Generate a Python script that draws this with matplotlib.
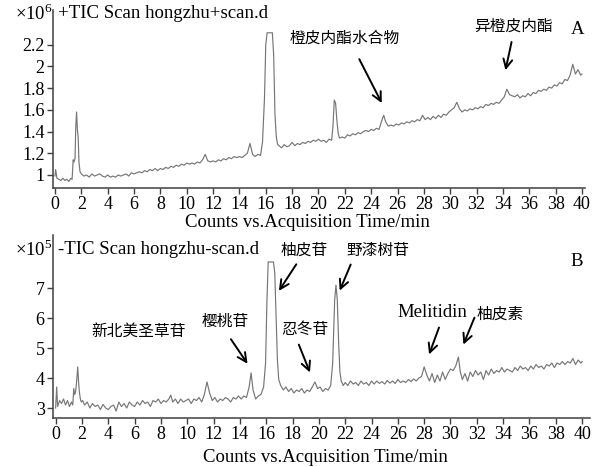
import matplotlib
matplotlib.use('Agg')
import matplotlib.pyplot as plt

plt.rcParams['font.family'] = ['Liberation Serif', 'Noto Sans CJK SC']
plt.rcParams['mathtext.fontset'] = 'custom'
plt.rcParams['mathtext.rm'] = 'Liberation Serif'

# positive mode TIC (x1e6 counts)
pos_time = [0.0, 0.05, 0.15, 0.3, 0.45, 0.6, 0.75, 0.9, 1.05, 1.2, 1.3,
            1.38, 1.45, 1.52, 1.58, 1.64, 1.7, 1.76, 1.82, 1.9, 2.0,
            2.2, 2.4, 2.6, 2.8, 3.0, 3.2, 3.4, 3.6, 3.8, 4.0,
            4.2, 4.4, 4.6, 4.8, 5.0, 5.2, 5.4, 5.6, 5.8, 6.0,
            6.2, 6.4, 6.6, 6.8, 7.0, 7.2, 7.4, 7.6, 7.8, 8.0,
            8.2, 8.4, 8.6, 8.8, 9.0, 9.2, 9.4, 9.6, 9.8, 10.0,
            10.2, 10.4, 10.6, 10.8, 11.0, 11.2, 11.4, 11.6, 11.8, 12.0,
            12.2, 12.4, 12.6, 12.8, 13.0, 13.2, 13.4, 13.6, 13.8, 14.0,
            14.2, 14.4, 14.6, 14.8, 15.0, 15.2, 15.4, 15.6, 15.75, 15.9,
            16.0, 16.1, 16.5, 16.6, 16.7, 16.8, 16.9, 17.0, 17.2, 17.4,
            17.6, 17.8, 18.0, 18.2, 18.4, 18.6, 18.8, 19.0, 19.2, 19.4,
            19.6, 19.8, 20.0, 20.2, 20.4, 20.6, 20.8, 21.0, 21.1, 21.2,
            21.3, 21.4, 21.5, 21.6, 21.8, 22.0, 22.2, 22.4, 22.6, 22.8,
            23.0, 23.2, 23.4, 23.6, 23.8, 24.0, 24.2, 24.4, 24.6, 24.8,
            24.95, 25.1, 25.3, 25.5, 25.7, 25.9, 26.1, 26.3, 26.5, 26.7,
            26.9, 27.1, 27.3, 27.5, 27.7, 27.9, 28.1, 28.3, 28.5, 28.7,
            28.9, 29.1, 29.3, 29.5, 29.7, 29.9, 30.1, 30.3, 30.5, 30.7,
            30.9, 31.1, 31.3, 31.5, 31.7, 31.9, 32.1, 32.3, 32.5, 32.7,
            32.9, 33.1, 33.3, 33.5, 33.7, 33.9, 34.1, 34.3, 34.5, 34.7,
            34.9, 35.1, 35.3, 35.5, 35.7, 35.9, 36.1, 36.3, 36.5, 36.7,
            36.9, 37.1, 37.3, 37.5, 37.7, 37.9, 38.1, 38.3, 38.5, 38.7,
            38.9, 39.1, 39.3, 39.5, 39.7, 39.9, 40.0]
pos_counts = [0.99, 1.05, 0.97, 0.96, 0.95, 0.97, 0.95, 0.96, 0.94, 0.97, 0.96,
              1.14, 1.12, 1.15, 1.45, 1.58, 1.42, 1.35, 1.12, 1.03, 1.01,
              0.99, 1.0, 0.98, 1.01, 0.99, 1.0, 1.01, 0.99, 0.98, 1.0,
              0.98, 0.99, 0.98, 1.0, 0.99, 1.0, 1.01, 0.99, 1.02, 1.01,
              1.02, 1.03, 1.02, 1.04, 1.03, 1.05, 1.04, 1.06, 1.04, 1.06,
              1.05, 1.07, 1.06, 1.08, 1.07, 1.09, 1.08, 1.1, 1.09, 1.11,
              1.1, 1.11, 1.1, 1.12, 1.11, 1.14, 1.19, 1.13, 1.12, 1.13,
              1.12, 1.14, 1.13, 1.15, 1.14, 1.16, 1.15, 1.17, 1.16, 1.17,
              1.16, 1.18, 1.2, 1.29, 1.19, 1.17, 1.19, 1.18, 1.3, 1.7,
              2.2, 2.31, 2.31, 2.1, 1.55, 1.35, 1.28, 1.27, 1.25, 1.28,
              1.26, 1.27, 1.3, 1.27, 1.29, 1.28, 1.3, 1.29, 1.31, 1.3,
              1.32, 1.31, 1.33, 1.31, 1.32, 1.3, 1.33, 1.32, 1.45, 1.69,
              1.66, 1.5, 1.38, 1.34, 1.35, 1.34, 1.37, 1.36, 1.38, 1.37,
              1.39, 1.38, 1.4, 1.41, 1.4, 1.42, 1.41, 1.43, 1.42, 1.5,
              1.55, 1.49, 1.45, 1.46, 1.45, 1.47, 1.46, 1.48, 1.47, 1.49,
              1.48, 1.5, 1.49, 1.51, 1.5, 1.55, 1.51, 1.53, 1.51, 1.54,
              1.52, 1.55, 1.53, 1.56, 1.55, 1.58, 1.6, 1.62, 1.67, 1.61,
              1.58, 1.6, 1.59, 1.61, 1.6, 1.62, 1.61, 1.63, 1.62, 1.65,
              1.64, 1.66, 1.65, 1.67, 1.66, 1.69, 1.72, 1.79, 1.74, 1.73,
              1.72, 1.74, 1.71, 1.73, 1.72, 1.75, 1.73, 1.76, 1.75, 1.78,
              1.77, 1.79, 1.78, 1.81, 1.8, 1.83, 1.82, 1.85, 1.84, 1.88,
              1.87, 1.92, 2.02, 1.93, 1.97, 1.92, 1.93]

# negative mode TIC (x1e5 counts)
neg_time = [0.0, 0.08, 0.15, 0.3, 0.45, 0.6, 0.75, 0.9, 1.05, 1.2, 1.3,
            1.38, 1.45, 1.52, 1.6, 1.68, 1.74, 1.8, 1.88, 1.95, 2.05,
            2.2, 2.4, 2.6, 2.8, 3.0, 3.2, 3.4, 3.6, 3.8, 4.0,
            4.2, 4.4, 4.6, 4.8, 5.0, 5.2, 5.4, 5.6, 5.8, 6.0,
            6.2, 6.4, 6.6, 6.8, 7.0, 7.2, 7.4, 7.6, 7.8, 8.0,
            8.2, 8.4, 8.6, 8.75, 8.9, 9.1, 9.3, 9.5, 9.7, 9.9,
            10.1, 10.3, 10.5, 10.7, 10.9, 11.1, 11.3, 11.5, 11.7, 11.9,
            12.1, 12.3, 12.5, 12.7, 12.9, 13.1, 13.3, 13.5, 13.7, 13.9,
            14.1, 14.3, 14.5, 14.7, 14.85, 15.0, 15.2, 15.4, 15.6, 15.8,
            15.95, 16.05, 16.15, 16.55, 16.65, 16.75, 16.85, 16.95, 17.1, 17.3,
            17.5, 17.7, 17.9, 18.1, 18.3, 18.5, 18.7, 18.9, 19.1, 19.3,
            19.5, 19.7, 19.9, 20.1, 20.3, 20.5, 20.7, 20.9, 21.05, 21.2,
            21.3, 21.4, 21.5, 21.6, 21.7, 21.85, 22.0, 22.2, 22.4, 22.6,
            22.8, 23.0, 23.2, 23.4, 23.6, 23.8, 24.0, 24.2, 24.4, 24.6,
            24.8, 25.0, 25.2, 25.4, 25.6, 25.8, 26.0, 26.2, 26.4, 26.6,
            26.8, 27.0, 27.2, 27.4, 27.6, 27.8, 28.0, 28.2, 28.4, 28.6,
            28.8, 29.0, 29.2, 29.4, 29.6, 29.8, 30.0, 30.2, 30.4, 30.6,
            30.75, 30.9, 31.1, 31.3, 31.5, 31.7, 31.9, 32.1, 32.3, 32.5,
            32.7, 32.9, 33.1, 33.3, 33.5, 33.7, 33.9, 34.1, 34.3, 34.5,
            34.7, 34.9, 35.1, 35.3, 35.5, 35.7, 35.9, 36.1, 36.3, 36.5,
            36.7, 36.9, 37.1, 37.3, 37.5, 37.7, 37.9, 38.1, 38.3, 38.5,
            38.7, 38.9, 39.1, 39.3, 39.5, 39.7, 39.9, 40.0]
neg_counts = [3.0, 3.7, 3.05, 3.25, 3.15, 3.3, 3.1, 3.25, 3.05, 3.2, 3.1,
              3.65, 3.45, 3.55, 3.9, 4.37, 3.9, 3.55, 3.3, 3.2, 3.25,
              3.1, 3.2, 3.0, 3.15, 3.05, 3.1, 2.95, 3.12, 3.0, 2.95,
              3.05, 3.1, 2.9, 3.2, 3.05, 3.15, 3.0, 3.2, 3.1, 3.05,
              3.2, 3.1, 3.25, 3.15, 3.2, 3.05, 3.25, 3.2, 3.3, 3.15,
              3.25, 3.2, 3.3, 3.43, 3.2, 3.3, 3.15, 3.3, 3.2, 3.25,
              3.3, 3.15, 3.3, 3.25, 3.35, 3.2, 3.45, 3.87, 3.5, 3.25,
              3.35, 3.2, 3.3, 3.25, 3.35, 3.3, 3.2, 3.35, 3.3, 3.4,
              3.3, 3.4, 3.35, 3.7, 4.17, 3.6, 3.3, 3.4, 3.45, 3.7,
              4.5, 6.5, 7.87, 7.87, 7.5, 6.0, 4.6, 3.95, 3.75, 3.6,
              3.7, 3.55, 3.65, 3.5, 3.6, 3.55, 3.65, 3.5, 3.6, 3.55,
              3.7, 3.87, 3.65, 3.7, 3.55, 3.65, 3.6, 3.75, 4.5, 6.6,
              7.1, 6.6, 5.2, 4.2, 3.9, 3.75, 3.85, 3.75, 3.9, 3.8,
              3.85, 3.75, 3.9, 3.8, 3.85, 3.75, 3.9, 3.8, 3.9, 3.82,
              3.88, 3.8, 3.92, 3.83, 3.9, 3.82, 3.95, 3.85, 3.9, 3.85,
              3.95, 3.88, 3.97, 3.9, 4.0, 4.05, 4.37, 4.1, 3.9, 4.15,
              3.85, 4.1, 3.9, 4.2, 3.95, 4.15, 4.3, 4.25, 4.4, 4.7,
              4.2, 3.95, 4.15, 3.9, 4.2, 4.05, 4.25, 4.1, 4.2, 3.95,
              4.25, 4.1, 4.3, 4.15, 4.25, 4.2, 4.35, 4.2, 4.3, 4.25,
              4.2, 4.35, 4.25, 4.4, 4.3, 4.35, 4.25, 4.4, 4.3, 4.45,
              4.35, 4.4, 4.3, 4.45, 4.4, 4.5, 4.35, 4.5, 4.45, 4.55,
              4.45, 4.55, 4.5, 4.65, 4.45, 4.6, 4.5, 4.55]

# annotations: (label, text x, text y, arrow tail x, tail y, head x, head y)
pos_labels = [('橙皮内酯水合物', 22.0, 2.26, 23.0, 2.09, 24.9, 1.64),
              ('异橙皮内酯', 34.8, 2.37, 34.7, 2.25, 34.15, 1.94)]
neg_labels = [('新北美圣草苷', 6.3, 5.53, None, None, None, None),
              ('樱桃苷', 12.9, 5.87, 13.2, 5.37, 14.7, 4.4),
              ('柚皮苷', 18.9, 8.23, 18.4, 7.87, 16.85, 6.83),
              ('忍冬苷', 18.9, 5.6, 18.4, 5.2, 19.4, 4.1),
              ('野漆树苷', 24.5, 8.23, 22.5, 7.87, 21.5, 6.83),
              ('Melitidin', 28.6, 6.2, 29.2, 5.77, 28.3, 4.7),
              ('柚皮素', 33.8, 6.1, 31.9, 6.1, 30.9, 5.03)]

W, H = 605, 467
fig = plt.figure(figsize=(W / 100, H / 100), dpi=100)
ax1 = fig.add_axes([53 / W, 1 - 188 / H, 532 / W, 178 / H])
ax2 = fig.add_axes([53 / W, 1 - 418 / H, 537 / W, 183 / H])

line_col = '#767676'
ax1.plot(pos_time, pos_counts, color=line_col, lw=0.85)
ax2.plot(neg_time, neg_counts, color=line_col, lw=0.85)

ax1.set_xlim(-0.15, 40.23)
ax1.set_ylim(0.88, 2.52)
ax2.set_xlim(-0.2, 40.6)
ax2.set_ylim(2.667, 8.77)

ax1.set_yticks([1, 1.2, 1.4, 1.6, 1.8, 2, 2.2])
ax1.set_yticklabels(['1', '1.2', '1.4', '1.6', '1.8', '2', '2.2'])
ax2.set_yticks([3, 4, 5, 6, 7])

for ax in (ax1, ax2):
    ax.set_xticks(range(0, 41, 2))
    ax.spines['top'].set_visible(False)
    ax.spines['right'].set_visible(False)
    for s in ('left', 'bottom'):
        ax.spines[s].set_color('#404040')
        ax.spines[s].set_linewidth(1.1)
    ax.tick_params(direction='out', length=4, width=1, color='#404040',
                   labelsize=13, pad=2)
    ax.set_xlabel('Counts vs.Acquisition Time/min', fontsize=13.5, labelpad=0)

ax1.xaxis.set_label_coords(0.478, -0.148)
ax2.xaxis.set_label_coords(0.508, -0.17)

fig.text(0.096, 1 - 14 / H, '+TIC Scan hongzhu+scan.d', fontsize=13.5, va='center')
fig.text(0.096, 1 - 250 / H, '-TIC Scan hongzhu-scan.d', fontsize=13.5, va='center')
fig.text(0.025, 1 - 14 / H, r'$\times10^{6}$', fontsize=13.5, va='center')
fig.text(0.025, 1 - 250 / H, r'$\times10^{5}$', fontsize=13.5, va='center')

ax1.text(39.7, 2.34, 'A', fontsize=13.5, ha='center', va='center')
ax2.text(39.6, 7.87, 'B', fontsize=13.5, ha='center', va='center')

arrow = dict(arrowstyle='->', lw=1.4, color='black', mutation_scale=16)
for ax, labels in ((ax1, pos_labels), (ax2, neg_labels)):
    for name, tx, ty, ax0, ay0, hx, hy in labels:
        fs = 13.5 if name.isascii() else 11.3
        ax.text(tx, ty, name, fontsize=fs, ha='center', va='center')
        if ax0 is not None:
            ax.annotate('', xy=(hx, hy), xytext=(ax0, ay0), arrowprops=arrow)

fig.savefig('out.png', dpi=100)
